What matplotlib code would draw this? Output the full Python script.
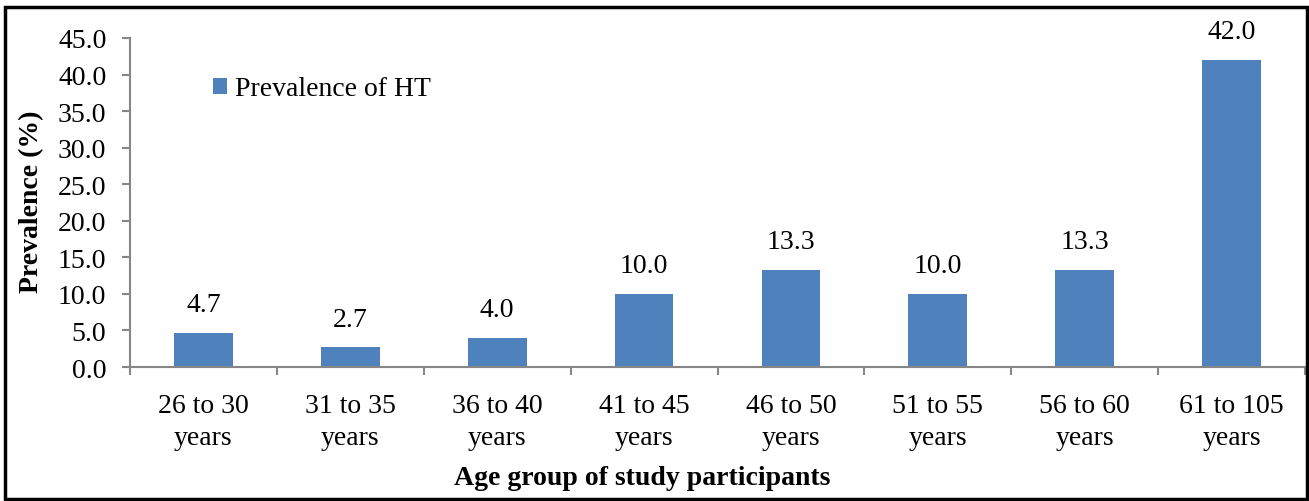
import matplotlib.pyplot as plt
from matplotlib.patches import Rectangle

plt.rcParams['font.family'] = ['Liberation Serif', 'DejaVu Serif']

groups = ["26 to 30\nyears", "31 to 35\nyears", "36 to 40\nyears", "41 to 45\nyears",
          "46 to 50\nyears", "51 to 55\nyears", "56 to 60\nyears", "61 to 105\nyears"]
prevalence = [4.7, 2.7, 4.0, 10.0, 13.3, 10.0, 13.3, 42.0]
yticks = [0, 5, 10, 15, 20, 25, 30, 35, 40, 45]

W, H = 1309, 502
FS = 20
fig = plt.figure(figsize=(W / 100, H / 100), dpi=100)
ax = fig.add_axes([130 / W, 134 / H, (1305 - 130) / W, (463 - 134) / H])

x = list(range(len(groups)))
ax.bar(x, prevalence, width=0.4, color="#4F81BD", label="Prevalence of HT")

# value labels above the bars
for xi, v in zip(x, prevalence):
    ax.annotate("%.1f" % v, (xi, v), xytext=(0, 15.5), textcoords="offset points",
                ha="center", va="baseline", fontsize=FS)

ax.set_xlim(-0.5, len(groups) - 0.5)
ax.set_ylim(0, 45)
ax.set_yticks(yticks)
ax.set_yticklabels(["%.1f" % t for t in yticks], fontsize=FS)
ax.set_xticks(x)
ax.set_xticklabels(groups, fontsize=FS, linespacing=1.35)
ax.tick_params(axis="x", length=0, pad=19)
ax.set_xticks([i - 0.5 for i in range(len(groups) + 1)], minor=True)
ax.tick_params(axis="x", which="minor", length=6, width=1.5, color="#868686", direction="out")
ax.tick_params(axis="y", length=6, width=1.5, color="#868686", direction="out", pad=11)

for s in ["top", "right"]:
    ax.spines[s].set_visible(False)
for s in ["left", "bottom"]:
    ax.spines[s].set_color("#868686")
    ax.spines[s].set_linewidth(1.5)

fig.text(32 / W, 1 - 202 / H, "Prevalence (%)", rotation=90, ha="center", va="center",
         fontsize=FS, fontweight="bold")
fig.text(642 / W, 1 - 479 / H, "Age group of study participants", ha="center", va="center",
         fontsize=FS, fontweight="bold")

fig.legend(loc="center left", bbox_to_anchor=(213 / W, 1 - 90 / H), frameon=False,
           fontsize=FS, handlelength=0.5, handleheight=0.5, handletextpad=0.3, borderpad=0,
           borderaxespad=0)

fig.patches.append(Rectangle((5 / W, 2 / H), 1302 / W, (H - 10) / H, transform=fig.transFigure,
                             fill=False, edgecolor="black", linewidth=2.5))

fig.savefig("out.png", dpi=100)
